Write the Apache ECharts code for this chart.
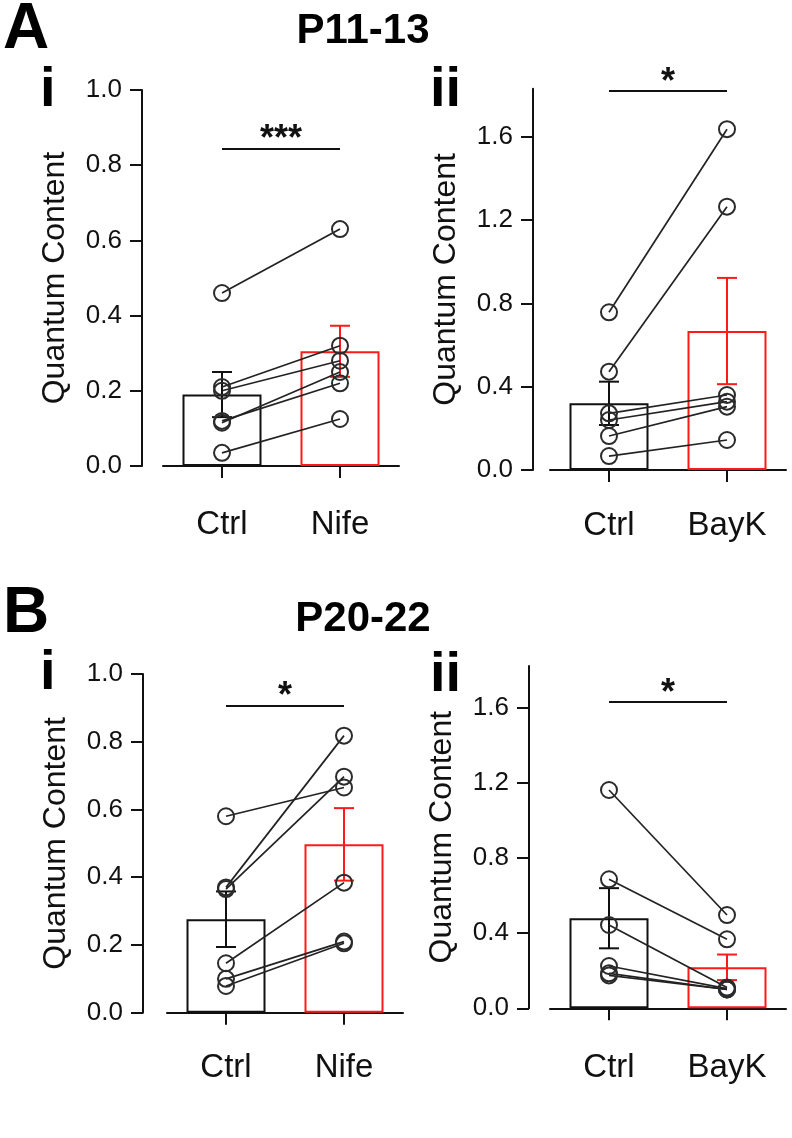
<!DOCTYPE html>
<html>
<head>
<meta charset="utf-8">
<script src="https://cdn.jsdelivr.net/npm/echarts@6/dist/echarts.min.js"></script>
<style>
html,body{margin:0;padding:0;background:#fff;}
#chart{width:792px;height:1138px;}
</style>
</head>
<body>
<div id="chart"></div>
<script>
// ---------- data ----------
const catsNife = ['Ctrl', 'Nife'];
const catsBayK = ['Ctrl', 'BayK'];

// Panel A i (P11-13, Nifedipine)
const aiCtrl = [0.46, 0.21, 0.20, 0.115, 0.12, 0.035];
const aiDrug = [0.63, 0.32, 0.28, 0.25, 0.22, 0.125];
const aiMean = [0.19, 0.305];
const aiSem = [0.06, 0.068];
const aiSig = 0.845;
const aiStars = '***';

// Panel A ii (P11-13, BayK)
const aiiCtrl = [0.757, 0.472, 0.272, 0.24, 0.163, 0.067];
const aiiDrug = [1.636, 1.264, 0.36, 0.328, 0.304, 0.144];
const aiiMean = [0.32, 0.667];
const aiiSem = [0.104, 0.255];
const aiiSig = 1.82;
const aiiStars = '*';

// Panel B i (P20-22, Nifedipine)
const biCtrl = [0.58, 0.37, 0.365, 0.146, 0.10, 0.079];
const biDrug = [0.665, 0.818, 0.697, 0.384, 0.21, 0.205];
const biMean = [0.276, 0.497];
const biSem = [0.082, 0.107];
const biSig = 0.907;
const biStars = '*';

// Panel B ii (P20-22, BayK)
const biiCtrl = [1.161, 0.686, 0.443, 0.225, 0.186, 0.175];
const biiDrug = [0.496, 0.367, 0.11, 0.105, 0.10, 0.10];
const biiMean = [0.479, 0.218];
const biiSem = [0.16, 0.068];
const biiSig = 1.631;
const biiStars = '*';

const ticksSmall = [0, 0.2, 0.4, 0.6, 0.8, 1.0];
const ticksLarge = [0, 0.4, 0.8, 1.2, 1.6];

// ---------- styling / layout ----------
const FONT = 'Liberation Sans, Arial, Helvetica, sans-serif';
const INK = '#111';
const RED = '#ff1a1a';
const barColors = [INK, RED];

const panels = [
  {cats: catsNife, ctrl: aiCtrl, drug: aiDrug, mean: aiMean, sem: aiSem, sig: aiSig, stars: aiStars,
   grid: {left: 163, top: 90, width: 236, height: 376}, max: 1.0, ticks: ticksSmall, yOff: 21, xOff: 22},
  {cats: catsBayK, ctrl: aiiCtrl, drug: aiiDrug, mean: aiiMean, sem: aiiSem, sig: aiiSig, stars: aiiStars,
   grid: {left: 550, top: 88.75, width: 236, height: 381.25}, max: 1.83, ticks: ticksLarge, yOff: 17, xOff: 19},
  {cats: catsNife, ctrl: biCtrl, drug: biDrug, mean: biMean, sem: biSem, sig: biSig, stars: biStars,
   grid: {left: 167, top: 674, width: 236, height: 338.7}, max: 1.0, ticks: ticksSmall, yOff: 24, xOff: 19},
  {cats: catsBayK, ctrl: biiCtrl, drug: biiDrug, mean: biiMean, sem: biiSem, sig: biiSig, stars: biiStars,
   grid: {left: 550, top: 666.1, width: 236, height: 342.2}, max: 1.82, ticks: ticksLarge, yOff: 21, xOff: 23}
];

const grids = [], xAxes = [], yAxes = [], series = [];

panels.forEach((p, k) => {
  grids.push(Object.assign({containLabel: false}, p.grid));
  xAxes.push({
    type: 'category', gridIndex: k, data: p.cats, boundaryGap: true, offset: p.xOff,
    axisLine: {show: true, lineStyle: {color: INK, width: 2}},
    axisTick: {show: true, alignWithLabel: true, length: 12, lineStyle: {color: INK, width: 2}},
    axisLabel: {color: INK, fontSize: 33, fontFamily: FONT, margin: 20},
    splitLine: {show: false}
  });
  yAxes.push({
    type: 'value', gridIndex: k, min: 0, max: p.max, offset: p.yOff,
    name: 'Quantum Content', nameLocation: 'middle', nameGap: 71,
    nameTextStyle: {color: INK, fontSize: 32, fontFamily: FONT},
    axisLine: {show: true, lineStyle: {color: INK, width: 2}},
    axisTick: {show: true, length: 12, customValues: p.ticks, lineStyle: {color: INK, width: 2}},
    axisLabel: {color: INK, fontSize: 26, fontFamily: FONT, margin: 20, customValues: p.ticks,
                formatter: v => Number(v).toFixed(1)},
    splitLine: {show: false}
  });

  // bars (means)
  series.push({
    type: 'bar', xAxisIndex: k, yAxisIndex: k, barWidth: 79, z: 2, silent: true,
    data: p.mean.map((v, i) => ({value: v, itemStyle: {color: 'transparent', borderColor: barColors[i], borderWidth: 2}}))
  });

  // error bars (mean +/- SEM)
  series.push({
    type: 'custom', xAxisIndex: k, yAxisIndex: k, z: 3, silent: true,
    data: p.mean.map((v, i) => [i, v - p.sem[i], v + p.sem[i]]),
    encode: {x: 0, y: [1, 2]},
    renderItem: function (params, api) {
      const xi = api.value(0);
      const lo = api.coord([xi, api.value(1)]);
      const hi = api.coord([xi, api.value(2)]);
      const hw = 10;
      const st = {stroke: barColors[params.dataIndex], lineWidth: 2};
      return {type: 'group', children: [
        {type: 'line', shape: {x1: lo[0], y1: lo[1], x2: hi[0], y2: hi[1]}, style: st},
        {type: 'line', shape: {x1: hi[0] - hw, y1: hi[1], x2: hi[0] + hw, y2: hi[1]}, style: st},
        {type: 'line', shape: {x1: lo[0] - hw, y1: lo[1], x2: lo[0] + hw, y2: lo[1]}, style: st}
      ]};
    }
  });

  // paired individual cells
  p.ctrl.forEach((c, i) => {
    series.push({
      type: 'line', xAxisIndex: k, yAxisIndex: k, z: 5, silent: true,
      data: [c, p.drug[i]],
      symbol: 'circle', symbolSize: 16, showSymbol: true,
      itemStyle: {color: 'transparent', borderColor: '#2b2b2b', borderWidth: 2},
      lineStyle: {color: '#222', width: 1.7}
    });
  });

  // significance bar
  series.push({
    type: 'line', xAxisIndex: k, yAxisIndex: k, z: 6, silent: true, data: [],
    markLine: {
      silent: true, symbol: ['none', 'none'], animation: false,
      lineStyle: {color: INK, width: 2, type: 'solid'},
      label: {show: true, position: 'middle', formatter: p.stars, color: INK,
              fontSize: 36, fontWeight: 'bold', fontFamily: FONT, distance: -10},
      data: [[{coord: [p.cats[0], p.sig]}, {coord: [p.cats[1], p.sig]}]]
    }
  });
});

const txt = (text, x, y, size, align) => ({
  type: 'text', x: x, y: y, silent: true,
  style: {text: text, fill: '#000', font: 'bold ' + size + 'px ' + FONT, align: align || 'left', verticalAlign: 'top'}
});

const option = {
  animation: false,
  backgroundColor: '#fff',
  grid: grids, xAxis: xAxes, yAxis: yAxes, series: series,
  graphic: [
    txt('A', 3, -2, 64),
    txt('P11-13', 363, 10, 42, 'center'),
    txt('i', 40, 63, 56),
    txt('ii', 430, 63, 56),
    txt('B', 3, 582, 64),
    txt('P20-22', 363, 598, 42, 'center'),
    txt('i', 40, 646, 56),
    txt('ii', 430, 648, 56)
  ]
};

const chart = echarts.init(document.getElementById('chart'), null, {renderer: 'canvas'});
chart.setOption(option);
</script>
</body>
</html>
